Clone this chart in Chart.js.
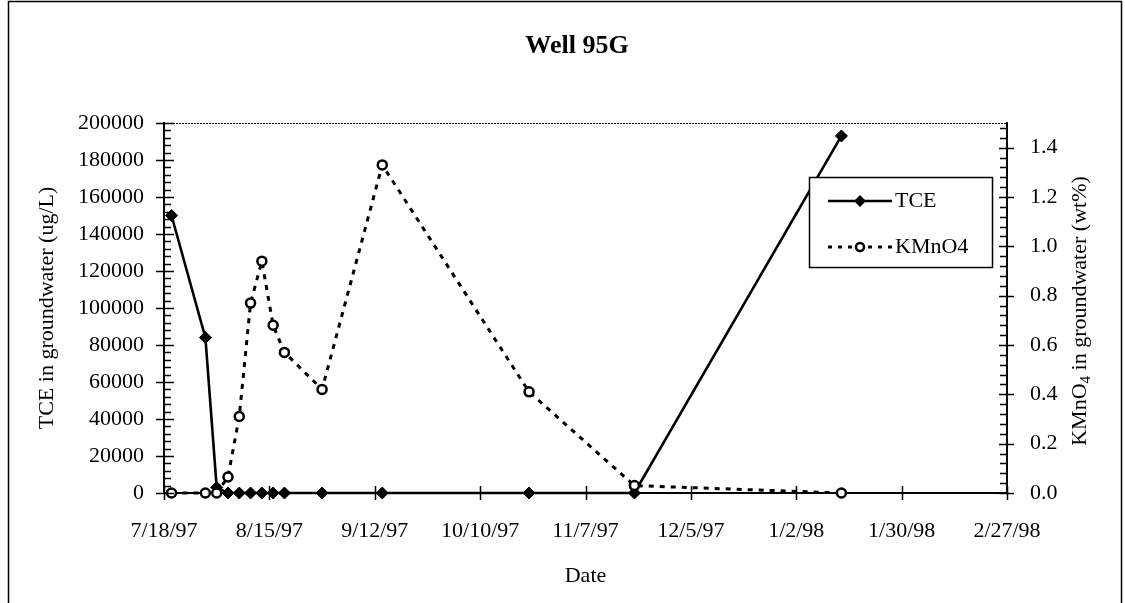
<!DOCTYPE html>
<html>
<head>
<meta charset="utf-8">
<script src="https://cdn.jsdelivr.net/npm/chart.js@4.4.1/dist/chart.umd.min.js"></script>
<style>html,body{margin:0;padding:0;background:#fff}canvas{display:block}</style>
</head>
<body>
<canvas id="wellChart" width="1125" height="603"></canvas>
<script>
/* ---------- DATA ---------- */
const sampleDates=["7/20/97","7/29/97","8/1/97","8/4/97","8/7/97","8/10/97","8/13/97","8/16/97","8/19/97","8/29/97","9/14/97","10/23/97","11/20/97","1/14/98"];
const tceValues=[150000,84000,3000,0,0,0,0,0,0,0,0,0,0,193000];
const kmno4Values=[0,0,0,0.065,0.31,0.77,0.94,0.68,0.57,0.42,1.33,0.41,0.03,0];
const dateTicks=["7/18/97","8/15/97","9/12/97","10/10/97","11/7/97","12/5/97","1/2/98","1/30/98","2/27/98"];
const tceTicks=[0,20000,40000,60000,80000,100000,120000,140000,160000,180000,200000];
const kmno4Ticks=[0,0.2,0.4,0.6,0.8,1.0,1.2,1.4];

/* ---------- HELPERS ---------- */
const SERIF="'Liberation Serif','Times New Roman',serif";
function dayOf(s){const [m,d,y]=s.split("/").map(Number);
  return (Date.UTC(1900+y,m-1,d)-Date.UTC(1997,6,18))/864e5;}
const toPoints=vals=>sampleDates.map((d,i)=>({x:dayOf(d),y:vals[i]}));

/* ---------- PLUGINS ---------- */
const frame={id:"frame",beforeDraw(c){const x=c.ctx;x.save();
  x.fillStyle="#fff";x.fillRect(0,0,c.width,c.height);
  x.strokeStyle="#000";x.lineWidth=1.5;x.strokeRect(8.5,1.5,1113,700);
  x.fillStyle="#000";x.font=`bold 26px ${SERIF}`;x.textAlign="center";x.textBaseline="middle";
  x.fillText("Well 95G",577,46);
  // right axis title, reads bottom to top, with subscript 4
  x.translate(1080,311);x.rotate(-Math.PI/2);
  const big=`22px ${SERIF}`,small=`15px ${SERIF}`;
  x.font=big;const w1=x.measureText("KMnO").width,w3=x.measureText(" in groundwater (wt%)").width;
  x.font=small;const w2=x.measureText("4").width;
  let px=-(w1+w2+w3)/2;x.textAlign="left";
  x.font=big;x.fillText("KMnO",px,0);px+=w1;
  x.font=small;x.fillText("4",px,6);px+=w2;
  x.font=big;x.fillText(" in groundwater (wt%)",px,0);
  x.restore();}};

const axisTicks={id:"axisTicks",afterDatasetsDraw(c){
  const x=c.ctx,a=c.chartArea,sy=c.scales.y,sr=c.scales.y1,sx=c.scales.x;
  x.save();x.strokeStyle="#000";
  x.lineWidth=1.2;x.setLineDash([2,1]);x.beginPath();x.moveTo(a.left,a.top+0.5);x.lineTo(a.right,a.top+0.5);x.stroke();
  x.setLineDash([]);x.lineWidth=1.5;x.beginPath();
  for(let i=0;i<=50;i++){const p=Math.round(sy.getPixelForValue(i*4000))+0.5,major=i%5===0;
    x.moveTo(a.left-(major?8:0),p);x.lineTo(a.left+(major?10:7),p);}
  for(let i=0;i<=37;i++){const p=Math.round(sr.getPixelForValue(i*0.04))+0.5,major=i%5===0;
    x.moveTo(a.right+(major?7:0),p);x.lineTo(a.right-(major?8:7),p);}
  dateTicks.forEach(t=>{const p=Math.round(sx.getPixelForValue(dayOf(t)))+0.5;x.moveTo(p,a.bottom-7);x.lineTo(p,a.bottom+7);});
  x.stroke();x.restore();}};

const boxLegend={id:"boxLegend",afterDatasetsDraw(c){const x=c.ctx;x.save();
  x.fillStyle="#fff";x.fillRect(809,177,183,90);
  x.strokeStyle="#000";x.lineWidth=1.5;x.strokeRect(809.5,177.5,183,90);
  // TCE row
  x.lineWidth=2.5;x.beginPath();x.moveTo(828,201);x.lineTo(892,201);x.stroke();
  x.fillStyle="#000";x.beginPath();x.moveTo(860,195);x.lineTo(866,201);x.lineTo(860,207);x.lineTo(854,201);x.closePath();x.fill();
  // KMnO4 row
  x.lineWidth=3;x.setLineDash([4,6]);x.beginPath();x.moveTo(828,247);x.lineTo(892,247);x.stroke();x.setLineDash([]);
  x.fillStyle="#fff";x.lineWidth=2.5;x.beginPath();x.arc(860,247,4,0,Math.PI*2);x.fill();x.stroke();
  x.fillStyle="#000";x.font=`22px ${SERIF}`;x.textAlign="left";x.textBaseline="middle";
  x.fillText("TCE",895,201);x.fillText("KMnO4",895,247);
  x.restore();}};

/* ---------- CHART ---------- */
const tickFont={family:SERIF,size:22};
new Chart(document.getElementById("wellChart"),{
  type:"line",
  data:{datasets:[
    {label:"TCE",data:toPoints(tceValues),yAxisID:"y",borderColor:"#000",borderWidth:2.6,
     pointStyle:"rectRot",pointRadius:6,pointBackgroundColor:"#000",pointBorderColor:"#000",pointBorderWidth:1,
     clip:false,order:2},
    {label:"KMnO4",data:toPoints(kmno4Values),yAxisID:"y1",borderColor:"#000",borderWidth:3,borderDash:[5,6],
     pointStyle:"circle",pointRadius:4.5,pointBackgroundColor:"#fff",pointBorderColor:"#000",pointBorderWidth:2.5,
     clip:false,order:1}
  ]},
  options:{
    responsive:false,animation:false,events:[],
    layout:{padding:{top:123,left:0,right:0,bottom:0}},
    plugins:{legend:{display:false},tooltip:{enabled:false},title:{display:false}},
    scales:{
      x:{type:"linear",min:0,max:224,
        afterBuildTicks:s=>{s.ticks=dateTicks.map(t=>({value:dayOf(t)}));},
        afterFit:s=>{s.height=110;},
        ticks:{autoSkip:false,maxRotation:0,padding:17,color:"#000",font:tickFont,callback:(v,i)=>dateTicks[i]},
        grid:{display:false},border:{color:"#000",width:2},
        title:{display:true,text:"Date",color:"#000",font:tickFont,padding:{top:0,bottom:14}}},
      y:{position:"left",min:0,max:200000,
        afterBuildTicks:s=>{s.ticks=tceTicks.map(v=>({value:v}));},
        afterFit:s=>{s.width=164;},
        ticks:{padding:12,color:"#000",font:tickFont,callback:v=>String(v)},
        grid:{display:false},border:{color:"#000",width:2},
        title:{display:true,text:"TCE in groundwater (ug/L)",color:"#000",font:tickFont,padding:{top:34,bottom:0}}},
      y1:{position:"right",min:0,max:1.5,
        afterBuildTicks:s=>{s.ticks=kmno4Ticks.map(v=>({value:v}));},
        afterFit:s=>{s.width=118;},
        ticks:{padding:15,color:"#000",font:tickFont,callback:v=>v.toFixed(1)},
        grid:{display:false},border:{color:"#000",width:2}}
    }
  },
  plugins:[frame,axisTicks,boxLegend]
});
</script>
</body>
</html>
